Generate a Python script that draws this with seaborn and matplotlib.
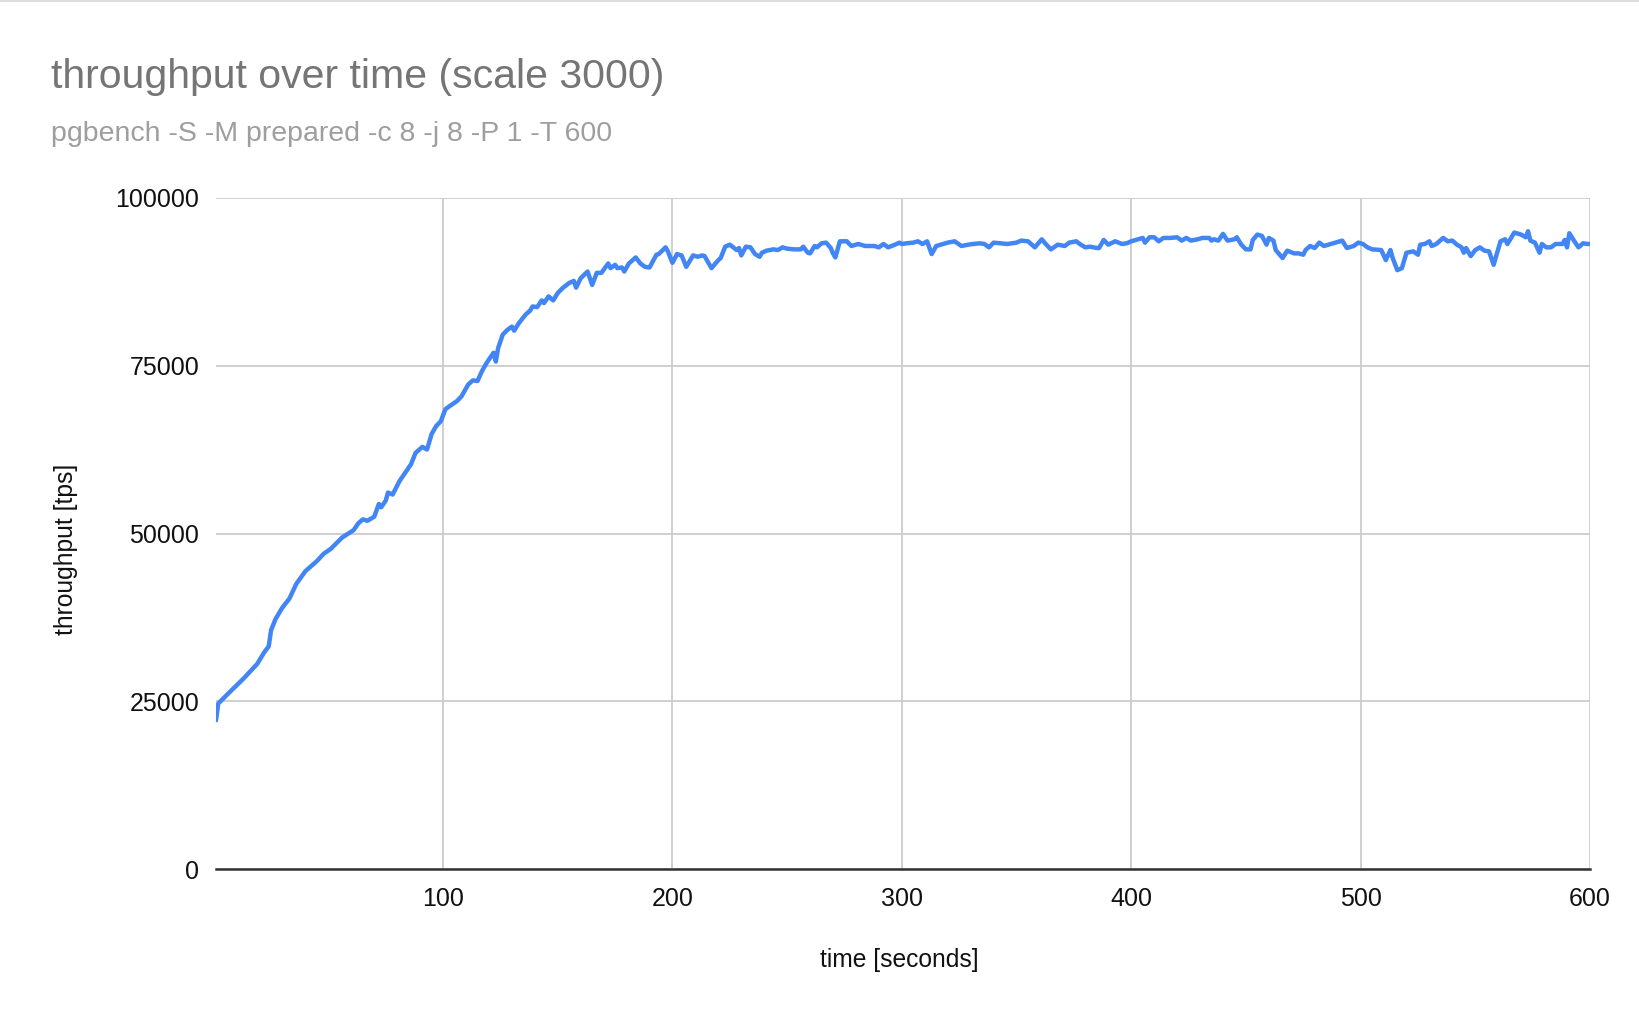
import matplotlib
matplotlib.use("Agg")
import matplotlib.pyplot as plt
import seaborn as sns
import pandas as pd

# values (pgbench progress, 1 s reports)
time_s = [
    1, 2, 7, 13, 19, 22, 24, 25, 27, 30, 33, 36, 40, 45, 48, 51, 56, 61, 63, 65,
    67, 70, 72, 73, 75, 76, 78, 81, 86, 88, 91, 93, 95, 97, 99, 101, 103, 106, 108, 111,
    113, 115, 117, 119, 122, 123, 124, 126, 128, 130, 131, 133, 136, 138, 139, 141, 143, 144, 146, 148,
    150, 152, 155, 157, 158, 160, 163, 165, 167, 169, 172, 173, 175, 176, 178, 179, 181, 184, 186, 188,
    190, 193, 194, 197, 198, 200, 202, 204, 206, 209, 211, 213, 214, 217, 220, 221, 223, 225, 228, 229,
    230, 232, 234, 236, 238, 239, 241, 244, 246, 248, 250, 253, 256, 257, 259, 260, 262, 263, 265, 267,
    269, 270, 271, 273, 276, 278, 281, 284, 288, 290, 292, 294, 297, 299, 300, 302, 305, 307, 309, 311,
    313, 315, 317, 320, 323, 326, 329, 331, 334, 336, 338, 340, 343, 346, 350, 352, 355, 358, 361, 363,
    365, 368, 371, 373, 376, 378, 380, 382, 385, 386, 388, 390, 393, 396, 398, 400, 402, 405, 406, 408,
    410, 412, 414, 417, 420, 422, 424, 426, 429, 431, 434, 435, 436, 438, 440, 442, 445, 446, 448, 450,
    452, 453, 455, 457, 459, 460, 462, 463, 466, 468, 471, 473, 475, 476, 478, 480, 482, 484, 486, 489,
    492, 494, 497, 499, 501, 503, 505, 509, 511, 513, 514, 516, 518, 520, 523, 525, 526, 528, 530, 531,
    533, 536, 538, 540, 542, 544, 545, 546, 548, 550, 552, 554, 556, 558, 559, 561, 563, 564, 567, 570,
    572, 573, 574, 576, 578, 579, 581, 583, 585, 588, 589, 590, 591, 593, 595, 597, 599, 600,
]
tps = [
    22200, 24700, 26400, 28400, 30600, 32300, 33200, 35600, 37300, 39000, 40300, 42500, 44400, 45900, 47000, 47700, 49400, 50500, 51500, 52100,
    51900, 52500, 54400, 53900, 54900, 56100, 55800, 57800, 60300, 62000, 62900, 62500, 64800, 66000, 66700, 68500, 69000, 69700, 70400, 72200,
    72800, 72700, 74200, 75400, 76900, 75600, 77600, 79600, 80300, 80800, 80200, 81300, 82600, 83200, 83800, 83700, 84700, 84300, 85300, 84700,
    85800, 86500, 87300, 87600, 86600, 88000, 89000, 87000, 88800, 88800, 90200, 89500, 90000, 89500, 89600, 89000, 90200, 91100, 90200, 89700,
    89600, 91500, 91600, 92600, 92000, 90300, 91600, 91400, 89700, 91400, 91200, 91400, 91300, 89500, 90700, 91000, 92700, 93000, 92200, 92500,
    91400, 92700, 92600, 91600, 91200, 91800, 92100, 92300, 92200, 92600, 92400, 92300, 92300, 92700, 91800, 91700, 92800, 92600, 93200, 93300,
    92500, 91700, 91100, 93500, 93500, 92800, 93100, 92800, 92800, 92600, 93100, 92600, 93000, 93300, 93100, 93200, 93300, 93500, 93100, 93500,
    91600, 92800, 93000, 93300, 93500, 92800, 93000, 93100, 93200, 93100, 92600, 93300, 93200, 93100, 93300, 93600, 93500, 92600, 93800, 93000,
    92300, 93000, 92800, 93300, 93500, 93000, 92600, 92700, 92500, 92500, 93700, 93000, 93500, 93100, 93200, 93500, 93700, 94000, 93300, 94100,
    94100, 93500, 94000, 94000, 94100, 93600, 94000, 93600, 93800, 94000, 94000, 93600, 93800, 93600, 94600, 93600, 93800, 94100, 93000, 92300,
    92300, 93700, 94500, 94300, 93000, 94000, 93600, 92200, 91000, 92100, 91700, 91700, 91500, 92200, 92800, 92500, 93300, 92800, 93000, 93300,
    93600, 92500, 92800, 93300, 93100, 92600, 92300, 92200, 90700, 92200, 91000, 89200, 89500, 91800, 92000, 91500, 93000, 93100, 93500, 92800,
    93100, 94000, 93500, 93600, 93000, 92600, 91800, 92500, 91300, 92200, 92600, 92100, 92000, 90000, 91200, 93500, 93800, 93100, 94800, 94500,
    94100, 95000, 93600, 93300, 91800, 93100, 92600, 92600, 93100, 93100, 93700, 92600, 94700, 93600, 92600, 93200, 93100, 93100,
]

x_ticks = [100, 200, 300, 400, 500, 600]
y_ticks = [0, 25000, 50000, 75000, 100000]

title = "throughput over time (scale 3000)"
subtitle = "pgbench -S -M prepared -c 8 -j 8 -P 1 -T 600"

df = pd.DataFrame({"time": time_s, "tps": tps})

sns.set_theme(style="whitegrid")
plt.rcParams["font.family"] = ["Liberation Sans", "DejaVu Sans"]

fig = plt.figure(figsize=(16.4, 10.24), dpi=100)
ax = fig.add_axes([0.1317, 0.151, 0.8378, 0.656])

sns.lineplot(data=df, x="time", y="tps", color="#4285F4", linewidth=3.2, ax=ax)

ax.set_xlim(1, 600)
ax.set_ylim(0, 100000)
ax.set_xticks(x_ticks)
ax.set_xticklabels([str(t) for t in x_ticks])
ax.set_yticks(y_ticks)
ax.set_yticklabels([str(t) for t in y_ticks])
ax.tick_params(axis="both", length=0, labelsize=18, colors="#111111")
ax.tick_params(axis="x", pad=13)
ax.tick_params(axis="y", pad=12)

ax.grid(True, color="#cccccc", linewidth=1.3)
for side in ["left", "right", "top"]:
    ax.spines[side].set_visible(False)
ax.spines["bottom"].set_color("#333333")
ax.spines["bottom"].set_linewidth(1.8)
ax.set_facecolor("white")

ax.set_xlabel("time [seconds]", fontsize=17.7, color="#111111", va="center")
ax.set_ylabel("throughput [tps]", fontsize=17.7, color="#111111", va="center")
ax.xaxis.set_label_coords(0.497, -0.135)
ax.yaxis.set_label_coords(-0.109, 0.477)

fig.text(0.031, 1 - 77 / 1024, title, fontsize=29.5, color="#757575", va="center", ha="left")
fig.text(0.031, 1 - 134 / 1024, subtitle, fontsize=20.5, color="#9e9e9e", va="center", ha="left")
fig.add_artist(plt.Line2D([0, 1], [0.999, 0.999], color="#dddddd", linewidth=1.5,
                          transform=fig.transFigure))

fig.savefig("out.png", dpi=100, facecolor="white")
